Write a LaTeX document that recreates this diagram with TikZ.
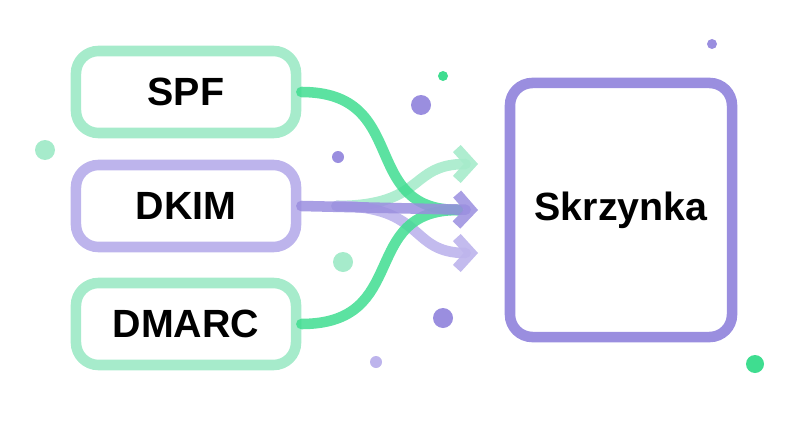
\documentclass[tikz,border=0pt]{standalone}
\usepackage{fontspec}
\setmainfont{Liberation Sans}
\usetikzlibrary{arrows.meta,positioning}
\definecolor{mint}{HTML}{A6EBCB}
\definecolor{leaf}{HTML}{3FDD90}
\definecolor{violet}{HTML}{9A8EDF}
\definecolor{lilac}{HTML}{BDB4EC}
\begin{document}
\begin{tikzpicture}[x=0.025cm,y=-0.025cm]
    % --- Styles ---
    \tikzset{
        rule box/.style={draw=#1, line width=7.5pt, rounded corners=16pt,
            minimum width=5.5cm, minimum height=2.05cm, font=\bfseries\fontsize{28}{32}\selectfont},
        flow/.style={line width=7.5pt, line cap=round, line join=round,
            -{Straight Barb[length=10pt,width=22pt,line width=7.5pt]}}
    }
    \useasboundingbox (0,0) rectangle (800,420);

    % Boxes
    \node[rule box=mint] (spf) at (186,92) {SPF};
    \node[rule box=lilac] (dkim) at (186,206) {DKIM};
    \node[rule box=mint] (dmarc) at (186,324) {DMARC};
    \node[rule box=violet, minimum width=5.55cm, minimum height=6.35cm] (box) at (621,210) {Skrzynka};

    % Arrow tips
    \coordinate (up) at (478,164);
    \coordinate (mid) at (478,210);
    \coordinate (low) at (478,253);
    \coordinate (join) at (458,210);

    % Flows
    \draw[flow, mint, opacity=.9] ([xshift=25pt]dkim.east) .. controls +(90,0) and +(-70,0) .. (up);
    \draw[flow, lilac, opacity=.9] ([xshift=25pt]dkim.east) .. controls +(90,0) and +(-70,0) .. (low);
    \draw[line width=7.5pt, line cap=round, leaf, opacity=.85] (spf.east) .. controls +(110,0) and +(-100,0) .. (join);
    \draw[line width=7.5pt, line cap=round, leaf, opacity=.85] (dmarc.east) .. controls +(110,0) and +(-100,0) .. (join);
    \draw[flow, violet, opacity=.85] (dkim.east) -- (mid);

    % Dots
    \fill[violet] (712,44) circle (5);
    \fill[leaf] (443,76) circle (5);
    \fill[violet] (421,105) circle (10);
    \fill[mint] (45,150) circle (10);
    \fill[violet] (338,157) circle (6);
    \fill[mint] (343,262) circle (10);
    \fill[violet] (443,318) circle (10);
    \fill[lilac] (376,362) circle (6);
    \fill[leaf] (755,364) circle (9);
\end{tikzpicture}
\end{document}
